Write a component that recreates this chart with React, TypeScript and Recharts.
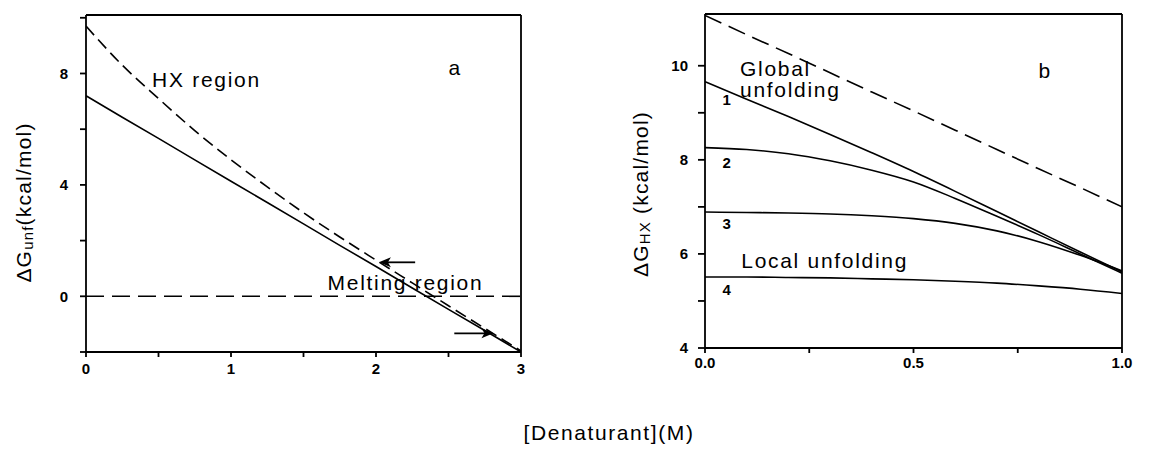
import { Line, LineChart, ReferenceDot, ReferenceLine, XAxis, YAxis } from "recharts";

const FONT = '"Liberation Sans", Arial, Helvetica, sans-serif';

// Panel a: stability vs denaturant
const denatA = [0, 0.25, 0.5, 0.75, 1, 1.25, 1.5, 1.75, 2, 2.25, 2.5, 2.75, 3];
const dGunf = [7.2, 6.43, 5.67, 4.9, 4.13, 3.37, 2.6, 1.83, 1.07, 0.3, -0.47, -1.23, -2.0];
const dGhxA = [9.7, 8.3, 7.1, 5.95, 4.9, 3.93, 3.0, 2.13, 1.3, 0.48, -0.34, -1.15, -1.96];
const xTicksA = [0, 0.5, 1, 1.5, 2, 2.5, 3];
const xLabelsA = [0, 1, 2, 3];
const yTicksA = [-2, 0, 2, 4, 6, 8, 10];
const yLabelsA = [0, 4, 8];

// Panel b: HX free energies for global and local unfolding
const denatB = [0, 0.1, 0.2, 0.3, 0.4, 0.5, 0.6, 0.7, 0.8, 0.9, 1.0];
const hxGlobal = [11.07, 10.66, 10.26, 9.85, 9.44, 9.04, 8.63, 8.22, 7.81, 7.41, 7.0];
const hxCurve1 = [9.66, 9.29, 8.92, 8.54, 8.15, 7.75, 7.33, 6.9, 6.47, 6.04, 5.62];
const hxCurve2 = [8.26, 8.22, 8.13, 7.98, 7.78, 7.53, 7.18, 6.8, 6.41, 6.0, 5.59];
const hxCurve3 = [6.89, 6.88, 6.87, 6.85, 6.81, 6.75, 6.65, 6.49, 6.26, 5.97, 5.64];
const hxCurve4 = [5.51, 5.51, 5.5, 5.49, 5.47, 5.45, 5.42, 5.38, 5.32, 5.25, 5.16];
const xTicksB = [0, 0.25, 0.5, 0.75, 1];
const xLabelsB = [0, 0.5, 1];
const yTicksB = [4, 5, 6, 7, 8, 9, 10];
const yLabelsB = [4, 6, 8, 10];

const toPoints = (xs: number[], ys: number[]) => xs.map((x, i) => ({ x, y: ys[i] }));

const has = (list: number[], v: number) => list.some((s) => Math.abs(s - v) < 1e-9);

// tick renderer that only prints text for the labelled values
function tickText(shown: number[], fmt: (v: number) => string, side: "x" | "y") {
  return (props: any) => {
    const { x, y, payload } = props;
    if (!has(shown, payload.value)) return <g />;
    return (
      <text
        x={x}
        y={y}
        dy={side === "x" ? "0.71em" : "0.35em"}
        textAnchor={side === "x" ? "middle" : "end"}
        fontFamily={FONT}
        fontWeight="bold"
        fontSize={15}
        fill="#000"
      >
        {fmt(payload.value)}
      </text>
    );
  };
}

function yTitle(sub: string, rest: string, dx: number, dy: number) {
  return (props: any) => {
    const vb = props.viewBox;
    const cx = vb.x + dx;
    const cy = vb.y + vb.height / 2 + dy;
    return (
      <text
        x={cx}
        y={cy}
        transform={`rotate(-90 ${cx} ${cy})`}
        textAnchor="middle"
        dominantBaseline="central"
        fontFamily={FONT}
        fontSize={21}
        letterSpacing={1.2}
        fill="#000"
      >
        ΔG
        <tspan fontSize={15} dy={4}>
          {sub}
        </tspan>
        <tspan dy={-4}>{rest}</tspan>
      </text>
    );
  };
}

function note(key: string, x: number, y: number, text: string, bold = false, size = 21) {
  return (
    <ReferenceDot
      key={key}
      x={x}
      y={y}
      r={0}
      ifOverflow="visible"
      shape={(p: any) => (
        <text
          x={p.cx}
          y={p.cy}
          fontFamily={FONT}
          fontSize={size}
          fontWeight={bold ? "bold" : "normal"}
          letterSpacing={bold ? 0 : 1.7}
          fill="#000"
        >
          {text}
        </text>
      )}
    />
  );
}

// short horizontal arrow with a filled head at (x2, y2)
const arrowShape = (p: any) => {
  const { x1, y1, x2, y2 } = p;
  const dir = x2 > x1 ? 1 : -1;
  const head = `${x2},${y2} ${x2 - dir * 12},${y2 - 5} ${x2 - dir * 9},${y2} ${x2 - dir * 12},${y2 + 5}`;
  return (
    <g>
      <line x1={x1} y1={y1} x2={x2 - dir * 6} y2={y2} stroke="#000" strokeWidth={1.8} />
      <polygon points={head} fill="#000" />
    </g>
  );
};

const axisStyle = { stroke: "#000", strokeWidth: 1.8 };

// the top and right axes only close the frame; a stroke-less series keeps them bound
const frameSeries = (xs: number[], ys: number[]) => (
  <Line
    xAxisId="top"
    yAxisId="right"
    data={toPoints(xs, ys)}
    dataKey="y"
    stroke="none"
    dot={false}
    activeDot={false}
    legendType="none"
    isAnimationActive={false}
  />
);

function PanelA() {
  return (
    <LineChart
      width={560}
      height={400}
      margin={{ top: 15, right: 39, bottom: 18, left: 0 }}
    >
      <XAxis
        dataKey="x"
        type="number"
        domain={[0, 3]}
        ticks={xTicksA}
        allowDataOverflow
        height={30}
        axisLine={axisStyle}
        tickLine={axisStyle}
        tickSize={5}
        tickMargin={6}
        tick={tickText(xLabelsA, (v) => String(v), "x")}
      />
      <XAxis
        xAxisId="top"
        dataKey="x"
        orientation="top"
        type="number"
        domain={[0, 3]}
        ticks={xTicksA}
        allowDataOverflow
        height={1}
        mirror
        axisLine={axisStyle}
        tickLine={axisStyle}
        tickSize={5}
        tick={false}
      />
      <YAxis
        type="number"
        domain={[-2, 10.1]}
        ticks={yTicksA}
        allowDataOverflow
        width={86}
        axisLine={axisStyle}
        tickLine={axisStyle}
        tickSize={6}
        tickMargin={12}
        tick={tickText(yLabelsA, (v) => String(v), "y")}
        label={yTitle("unf", "(kcal/mol)", 23, 19)}
      />
      <YAxis
        yAxisId="right"
        orientation="right"
        type="number"
        domain={[-2, 10.1]}
        ticks={yTicksA}
        allowDataOverflow
        width={1}
        mirror
        axisLine={axisStyle}
        tickLine={axisStyle}
        tickSize={5}
        tick={false}
      />
      {frameSeries(denatA, dGunf)}
      <ReferenceLine y={0} stroke="#000" strokeWidth={1.6} strokeDasharray="18 8" />
      <Line
        data={toPoints(denatA, dGhxA)}
        dataKey="y"
        type="monotone"
        stroke="#000"
        strokeWidth={1.6}
        strokeDasharray="12 6"
        dot={false}
        isAnimationActive={false}
      />
      <Line
        data={toPoints(denatA, dGunf)}
        dataKey="y"
        type="linear"
        stroke="#000"
        strokeWidth={1.6}
        dot={false}
        isAnimationActive={false}
      />
      <ReferenceLine
        segment={[
          { x: 2.27, y: 1.22 },
          { x: 2.02, y: 1.22 },
        ]}
        shape={arrowShape}
      />
      <ReferenceLine
        segment={[
          { x: 2.54, y: -1.33 },
          { x: 2.81, y: -1.33 },
        ]}
        shape={arrowShape}
      />
      {note("hx", 0.456, 7.5, "HX region")}
      {note("melt", 1.666, 0.22, "Melting region")}
      {note("a", 2.5, 7.93, "a")}
    </LineChart>
  );
}

function PanelB() {
  const curves = [hxCurve1, hxCurve2, hxCurve3, hxCurve4];
  return (
    <LineChart
      width={576}
      height={400}
      margin={{ top: 14, right: 34, bottom: 22, left: 0 }}
    >
      <XAxis
        dataKey="x"
        type="number"
        domain={[0, 1]}
        ticks={xTicksB}
        allowDataOverflow
        height={30}
        axisLine={axisStyle}
        tickLine={axisStyle}
        tickSize={5}
        tickMargin={4}
        tick={tickText(xLabelsB, (v) => v.toFixed(1), "x")}
      />
      <XAxis
        xAxisId="top"
        dataKey="x"
        orientation="top"
        type="number"
        domain={[0, 1]}
        ticks={xTicksB}
        allowDataOverflow
        height={1}
        mirror
        axisLine={axisStyle}
        tickLine={axisStyle}
        tickSize={5}
        tick={false}
      />
      <YAxis
        type="number"
        domain={[4, 11.1]}
        ticks={yTicksB}
        allowDataOverflow
        width={125}
        axisLine={axisStyle}
        tickLine={axisStyle}
        tickSize={7}
        tickMargin={10}
        tick={tickText(yLabelsB, (v) => String(v), "y")}
        label={yTitle("HX", " (kcal/mol)", 60, 13)}
      />
      <YAxis
        yAxisId="right"
        orientation="right"
        type="number"
        domain={[4, 11.1]}
        ticks={yTicksB}
        allowDataOverflow
        width={1}
        mirror
        axisLine={axisStyle}
        tickLine={axisStyle}
        tickSize={5}
        tick={false}
      />
      {frameSeries(denatB, hxCurve1)}
      <Line
        data={toPoints(denatB, hxGlobal)}
        dataKey="y"
        type="linear"
        stroke="#000"
        strokeWidth={1.6}
        strokeDasharray="18 8"
        dot={false}
        isAnimationActive={false}
      />
      {curves.map((c, i) => (
        <Line
          key={i}
          data={toPoints(denatB, c)}
          dataKey="y"
          type="monotone"
          stroke="#000"
          strokeWidth={1.6}
          dot={false}
          isAnimationActive={false}
        />
      ))}
      {note("global", 0.084, 9.79, "Global")}
      {note("unf", 0.084, 9.34, "unfolding")}
      {note("local", 0.087, 5.7, "Local unfolding")}
      {note("n1", 0.042, 9.17, "1", true, 15)}
      {note("n2", 0.042, 7.83, "2", true, 15)}
      {note("n3", 0.042, 6.53, "3", true, 15)}
      {note("n4", 0.042, 5.13, "4", true, 15)}
      {note("b", 0.8, 9.74, "b")}
    </LineChart>
  );
}

export default function App() {
  return (
    <div
      style={{
        position: "absolute",
        left: 0,
        top: 0,
        width: 1156,
        height: 452,
        background: "#fff",
      }}
    >
      <div style={{ position: "absolute", left: 0, top: 0 }}>
        <PanelA />
      </div>
      <div style={{ position: "absolute", left: 580, top: 0 }}>
        <PanelB />
      </div>
      <div
        style={{
          position: "absolute",
          left: 609,
          top: 421,
          transform: "translateX(-50%)",
          fontFamily: FONT,
          fontSize: 21,
          letterSpacing: 1.6,
          whiteSpace: "nowrap",
          color: "#000",
        }}
      >
        [Denaturant](M)
      </div>
    </div>
  );
}
